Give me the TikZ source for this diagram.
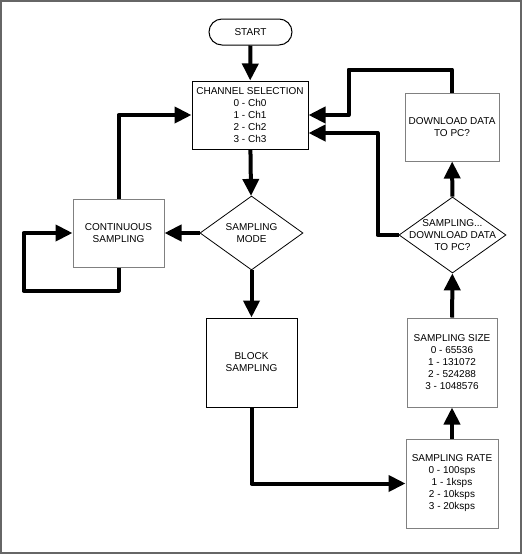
\documentclass[tikz,border=0pt]{standalone}
\usepackage{fontspec}
\setmainfont{Liberation Sans}
\usetikzlibrary{arrows.meta,shapes.geometric,calc}

\begin{document}
\begin{tikzpicture}[x=1pt, y=-1pt,
    every node/.style={font=\fontsize{10}{12}\selectfont, align=center, inner sep=0pt},
    box/.style={rectangle, draw=black, line width=1pt},
    greybox/.style={rectangle, draw=gray, line width=1pt},
    decision/.style={diamond, draw=black, line width=0.8pt, minimum width=103pt, minimum height=74pt},
    flow/.style={line width=4pt, line join=round, -{Triangle[length=17pt,width=16pt]}}]
  \useasboundingbox (0,0) rectangle (523,555);
  \draw[gray!80!black, line width=2pt] (1,1) rectangle (521,553);

  % Start and channel selection
  \node[box, rounded corners=13pt, minimum width=83pt, minimum height=26pt] (start) at (250.5,32) {START};
  \node[box, minimum width=116pt, minimum height=68pt] (chan) at (250,115) {CHANNEL SELECTION\\0 - Ch0\\1 - Ch1\\2 - Ch2\\3 - Ch3};

  % Sampling mode
  \node[decision, label={[align=center]center:{SAMPLING\\MODE}}] (mode) at (251.5,233) {};
  \node[greybox, minimum width=91pt, minimum height=68pt] (cont) at (118.5,233) {CONTINUOUS\\SAMPLING};
  \node[box, minimum width=91pt, minimum height=89pt] (block) at (251.5,362.5) {BLOCK\\SAMPLING};

  % Block sampling settings
  \node[greybox, minimum width=92pt, minimum height=89pt] (rate) at (452,483.5) {SAMPLING RATE\\0 - 100sps\\1 - 1ksps\\2 - 10ksps\\3 - 20ksps};
  \node[greybox, minimum width=90pt, minimum height=89pt] (size) at (452,362.5) {SAMPLING SIZE\\0 - 65536\\1 - 131072\\2 - 524288\\3 - 1048576};
  \node[decision, minimum width=107pt, minimum height=76pt, label={[align=center]center:{SAMPLING...\\DOWNLOAD DATA\\TO PC?}}] (dlq) at (452.5,235) {};
  \node[greybox, minimum width=94pt, minimum height=68pt] (dl) at (452,127) {DOWNLOAD DATA\\TO PC?};

  % Connections
  \draw[flow] (start) -- (chan);
  \draw[flow] (chan) -- (mode);
  \draw[flow] (mode) -- (cont);
  \draw[flow] (cont.north) |- (chan.west);
  \draw[flow] (cont.south) -- ++(0,23) -| ($(cont.west)+(-49,0)$) -- (cont.west);
  \draw[flow] (mode) -- (block);
  \draw[flow] (block.south) |- (rate.west);
  \draw[flow] (rate) -- (size);
  \draw[flow] (size) -- (dlq);
  \draw[flow] (dlq) -- (dl);
  \draw[flow] (dl.north) -- ++(0,-23) -| ($(chan.east)+(40,0)$) -- (chan.east);
  \draw[flow] (dlq.west) -| ($(chan.east)+(69,18)$) -- ($(chan.east)+(0,18)$);

\end{tikzpicture}
\end{document}
